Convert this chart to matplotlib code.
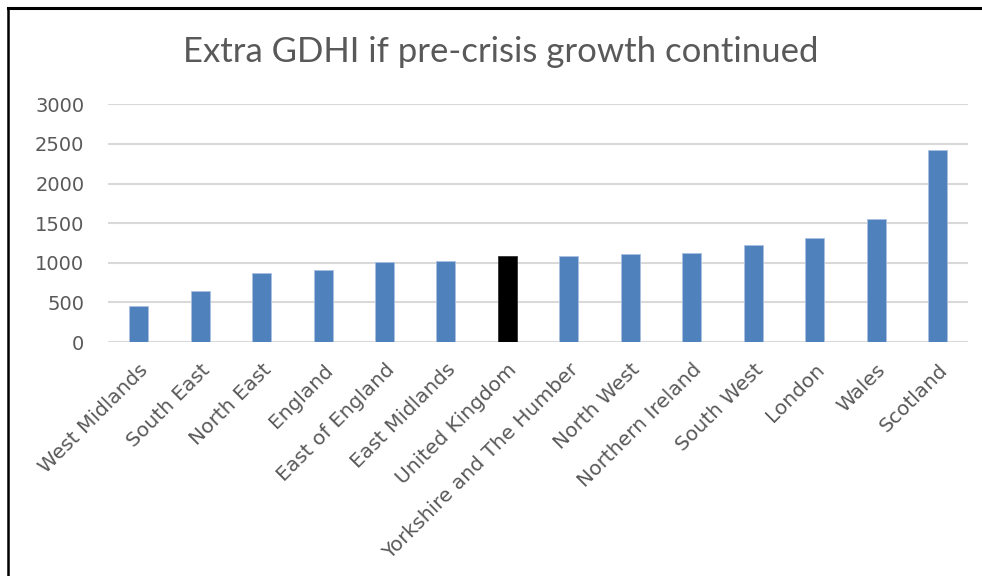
import matplotlib.pyplot as plt
import matplotlib.transforms as mtransforms
from matplotlib.lines import Line2D

regions = ['West Midlands', 'South East', 'North East', 'England', 'East of England',
           'East Midlands', 'United Kingdom', 'Yorkshire and The Humber', 'North West',
           'Northern Ireland', 'South West', 'London', 'Wales', 'Scotland']
extra_gdhi = [460, 645, 876, 914, 1015, 1027, 1082, 1082, 1116, 1128, 1229, 1318, 1549, 2421]
highlight = 'United Kingdom'

blue = '#4f81bd'
grey_text = '#595959'
grid_col = '#d9d9d9'

fig = plt.figure(figsize=(9.82, 5.76), dpi=100)
ax = fig.add_axes([0.110, 0.406, 0.876, 0.413])

colors = ['black' if r == highlight else blue for r in regions]
ax.bar(range(len(regions)), extra_gdhi, width=0.31, color=colors,
       edgecolor=['#333333' if r == highlight else '#a9c0e0' for r in regions],
       linewidth=0.6, zorder=3)

ax.set_ylim(0, 3000)
ax.set_yticks(range(0, 3001, 500))
ax.set_xlim(-0.5, len(regions) - 0.5)
ax.set_xticks(range(len(regions)))
ax.set_xticklabels(regions, rotation=45, ha='right', rotation_mode='anchor',
                   fontsize=14.5, color=grey_text, family='DejaVu Sans')
# nudge rotated labels a little to the right, like the original
shift = mtransforms.ScaledTranslation(5 / 100, 0, fig.dpi_scale_trans)
for lab in ax.get_xticklabels():
    lab.set_transform(lab.get_transform() + shift)
ax.tick_params(axis='y', labelsize=14, colors=grey_text, length=0, pad=17)
ax.tick_params(axis='x', length=0, pad=13)
ax.grid(axis='y', color=grid_col, linewidth=1.5, zorder=0)
for s in ax.spines.values():
    s.set_visible(False)

fig.text(0.510, 0.892, 'Extra GDHI if pre-crisis growth continued', ha='center', va='baseline',
         fontsize=25, color=grey_text, family='Lato')

# frame around the chart area (top and left only in the screenshot)
fig.add_artist(Line2D([0.008, 1.0], [0.986, 0.986], color='black', linewidth=2.2))
fig.add_artist(Line2D([0.008, 0.008], [0.0, 0.986], color='black', linewidth=1.8))

fig.savefig('out.png', dpi=100)
